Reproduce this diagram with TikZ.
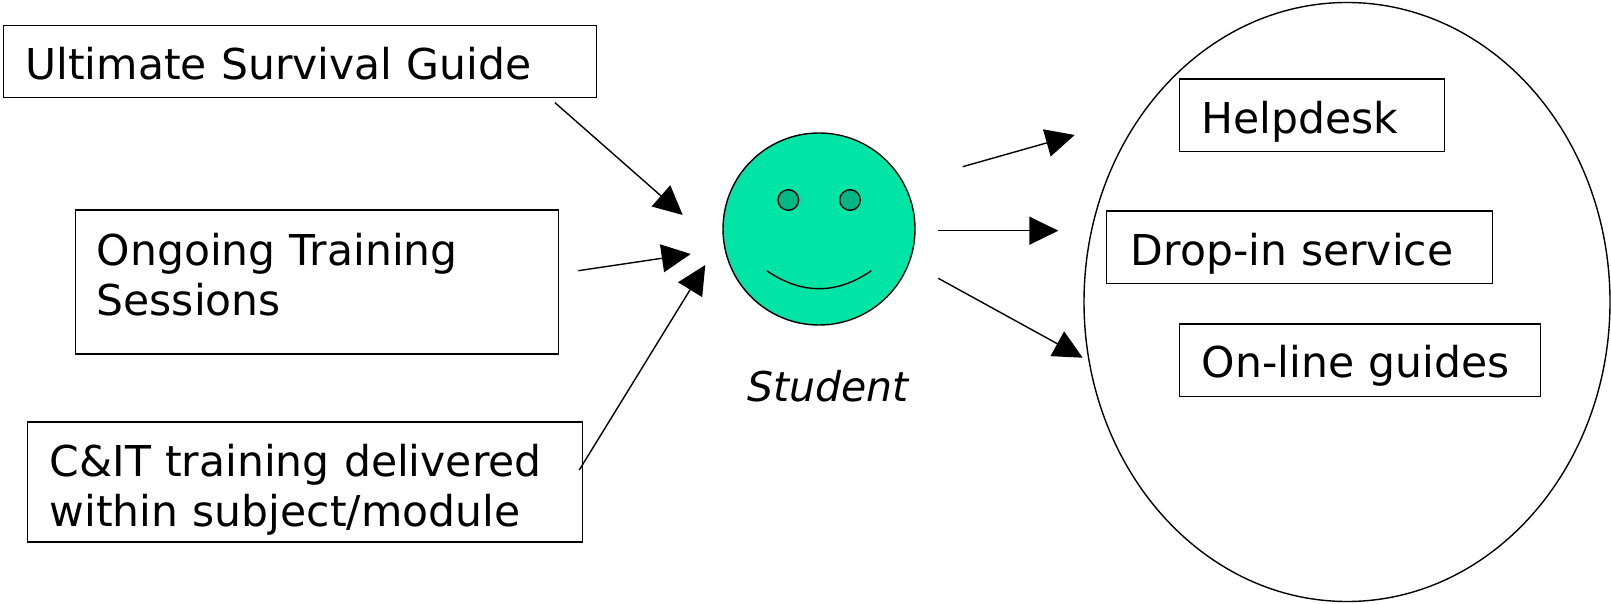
\documentclass[tikz,border=0pt]{standalone}
\usepackage{fontspec}
\setmainfont{DejaVu Sans}
\usetikzlibrary{arrows.meta,shapes.geometric}
\definecolor{facegreen}{RGB}{0,228,166}
\definecolor{eyegreen}{RGB}{0,183,134}
\begin{document}
\begin{tikzpicture}
[x=1pt,y=-1pt,
 boxdecorate/.style={shape=rectangle,draw,line width=1.4pt,anchor=base west,inner ysep=0pt,align=left,font=\fontsize{42.5}{50}\selectfont},%
 facedecorate/.style={shape=circle,draw,line width=1.4pt,fill=facegreen,minimum size=192pt,inner sep=0pt},%
 eyedecorate/.style={shape=circle,draw,line width=1.4pt,fill=eyegreen,minimum size=20.6pt,inner sep=0pt},%
 linedecorate/.style={-{Triangle[length=29pt,width=28pt]},line width=1.4pt}]
\useasboundingbox (0,0) rectangle (1611,604);
%% circle of services
\node (services) at (1347,302) [shape=ellipse,draw,line width=1.4pt,minimum width=526pt,minimum height=599pt,inner sep=0pt] {};
%% boxes
\foreach \nodename/\x/\y/\pad/\tw/\h/\d/\txt in {
  guide/2.7/79.6/22/548.8/53.8/18.1/{Ultimate Survival Guide},
  sessions/75/265/21/441/55/89/{Ongoing Training\\Sessions},
  module/27/476/22/511/54/66/{C\&IT training delivered\\within subject/module},
  helpdesk/1178.7/134/22/220.8/55/17.7/{Helpdesk},
  dropin/1106/265/24/337.5/54/18.4/{Drop-in service},
  online/1178.7/377/22.3/316.3/53/19.5/{On-line guides}}
{
  \node (\nodename) at (\x,\y) [boxdecorate,inner xsep=\pad pt,text width=\tw pt,text height=\h pt,text depth=\d pt] {\txt};
}
%% the student
\node (student) at (819,229) [facedecorate] {};
\node (lefteye) at (788.3,200) [eyedecorate] {};
\node (righteye) at (850,200) [eyedecorate] {};
\draw[line width=1.4pt] (766.7,270.7) .. controls (801.6,294.7) and (836.4,294.7) .. (871.3,270.7);
\node (studentlabel) at (747,401) [anchor=base west,inner sep=0pt,font=\fontsize{41}{48}\selectfont\itshape] {Student};
%% arrow ends
\foreach \nodename/\x/\y in {
  guidetail/555/102.7, guidehead/682.7/215,
  sessionstail/578.3/270.7, sessionshead/690.7/254,
  moduletail/579.3/470, modulehead/705.3/265,
  helptail/962.7/166.7, helphead/1074.7/135,
  droptail/938.3/230.7, drophead/1058.3/230.7,
  onlinetail/938.3/278.3, onlinehead/1082.7/357.7}
{
  \coordinate (\nodename) at (\x,\y);
}
%% arrows
\path
\foreach \startnode/\endnode in {guidetail/guidehead, sessionstail/sessionshead,
  moduletail/modulehead, helptail/helphead, droptail/drophead, onlinetail/onlinehead} {
  (\startnode) edge[linedecorate] (\endnode)
};
\end{tikzpicture}
\end{document}
